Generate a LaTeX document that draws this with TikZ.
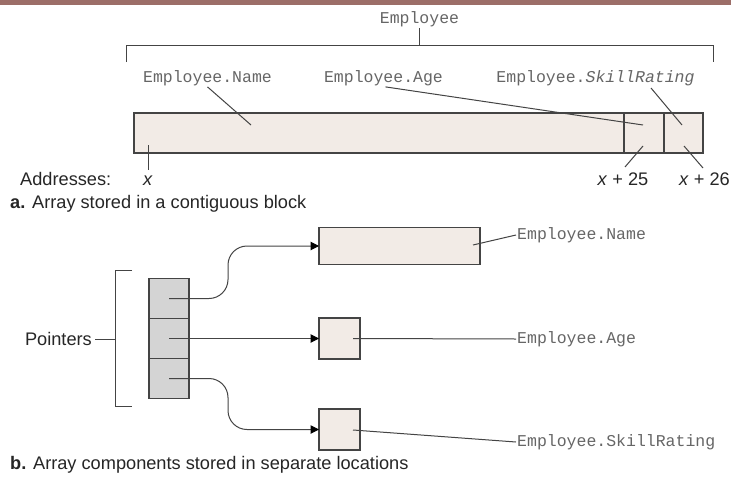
\documentclass[tikz,border=0pt]{standalone}
\usepackage{fontspec}
\setmainfont{Liberation Sans}
\newfontfamily\codefont{Liberation Mono}
\usetikzlibrary{arrows.meta}

\definecolor{cellfill}{HTML}{F2EBE6}
\definecolor{ptrfill}{HTML}{D4D4D4}
\definecolor{edge}{HTML}{444444}
\definecolor{codegray}{HTML}{666666}
\definecolor{bandcol}{HTML}{9C6E68}

\tikzset{
  cell/.style={draw=edge, line width=1.2pt, fill=cellfill, inner sep=0pt, outer sep=0pt},
  ptrcell/.style={draw=edge, line width=1.2pt, fill=ptrfill, inner sep=0pt, outer sep=0pt,
                  minimum width=40pt, minimum height=40pt},
  wire/.style={draw=edge, line width=1pt},
  ptrarrow/.style={wire, rounded corners=19pt, -{Triangle[length=8.5pt,width=8.5pt,color=black]}},
  codelbl/.style={font=\codefont\fontsize{16.5}{18}\selectfont, text=codegray, inner sep=1pt},
  textlbl/.style={font=\fontsize{18.2}{21}\selectfont, text=black!85, inner sep=0pt},
}

\begin{document}
\begin{tikzpicture}[x=1pt, y=-1pt]
  \useasboundingbox (0,0) rectangle (731,477);
  \fill[white] (0,0) rectangle (731,477);
  % band along the top edge
  \fill[bandcol] (0,0) rectangle (731,5);

  % ---------- a. contiguous block ----------
  \node[codelbl] (emp) at (419.5,19) {Employee};
  \coordinate (brTopMid) at (419.5,45);
  \draw[wire] (emp.south) -- (brTopMid);
  \draw[wire] (126,62) -- (126,45) -- (713,45) -- (713,62);

  \node[codelbl] (lName) at (207.5,78) {Employee.Name};
  \node[codelbl] (lAge)  at (383.5,78) {Employee.Age};
  \node[codelbl] (lSkill) at (595.5,78) {Employee.\textit{SkillRating}};

  \node[cell, minimum width=490pt, minimum height=40pt] (sName)  at (379,133) {};
  \node[cell, minimum width=40pt,  minimum height=40pt] (sAge)   at (644,133) {};
  \node[cell, minimum width=39pt,  minimum height=40pt] (sSkill) at (683.5,133) {};

  \coordinate (pName)  at (251,125);
  \coordinate (pAge)   at (643,125);
  \coordinate (pSkill) at (682,125);
  \coordinate (sSkillTop) at (651,88);
  \draw[wire] (lName.south) -- (pName);
  \draw[wire] (lAge.south) ++(2,0) -- (pAge);
  \draw[wire] (sSkillTop) -- (pSkill);

  \node[textlbl, anchor=base west] (addr) at (20,185.5) {Addresses:};
  \node[textlbl, anchor=base] (ax)   at (148,185.5) {\textit{x}};
  \node[textlbl, anchor=base] (ax25) at (623,185) {\textit{x} + 25};
  \node[textlbl, anchor=base] (ax26) at (704.5,185) {\textit{x} + 26};
  \coordinate (qx)   at (148,145);
  \coordinate (qx25) at (643,146);
  \coordinate (qx26) at (684,146);
  \draw[wire] (qx) -- (148,170);
  \draw[wire] (qx25) -- (625,167);
  \draw[wire] (qx26) -- (703,168);

  \node[textlbl, anchor=base west] (capA) at (10,208) {\textbf{a.} Array stored in a contiguous block};

  % ---------- b. separate locations ----------
  \node[ptrcell] (p1) at (169,298.5) {};
  \node[ptrcell] (p2) at (169,338.5) {};
  \node[ptrcell] (p3) at (169,378.5) {};

  \draw[wire] (132,270) -- (115,270) -- (115,406) -- (132,406);
  \coordinate (brMid) at (115,339);
  \node[textlbl, anchor=base east] (ptrs) at (92,345.5) {Pointers};
  \draw[wire] (95,339) -- (brMid);

  \node[cell, minimum width=161pt, minimum height=37pt] (bName)  at (399.5,246) {};
  \node[cell, minimum width=41pt,  minimum height=41pt] (bAge)   at (339.5,338.5) {};
  \node[cell, minimum width=41pt,  minimum height=41pt] (bSkill) at (339.5,429.5) {};

  \draw[ptrarrow] (p1.center) -| (228,246) -- (bName.west);
  \draw[ptrarrow] (p2.center) -- (bAge.west);
  \draw[ptrarrow] (p3.center) -| (228,429.5) -- (bSkill.west);

  \node[codelbl, anchor=west] (rName)  at (516,235) {Employee.Name};
  \node[codelbl, anchor=west] (rAge)   at (516,339) {Employee.Age};
  \node[codelbl, anchor=west] (rSkill) at (516,442) {Employee.SkillRating};

  \coordinate (iName)  at (473,245);
  \coordinate (iAge)   at (353,338.5);
  \coordinate (iSkill) at (353,430);
  \draw[wire] (iName) -- (rName.west);
  \draw[wire] (iAge) -- (rAge.west);
  \draw[wire] (iSkill) -- (rSkill.west);

  \node[textlbl, anchor=base west] (capB) at (10,469) {\textbf{b.} Array components stored in separate locations};
\end{tikzpicture}
\end{document}
